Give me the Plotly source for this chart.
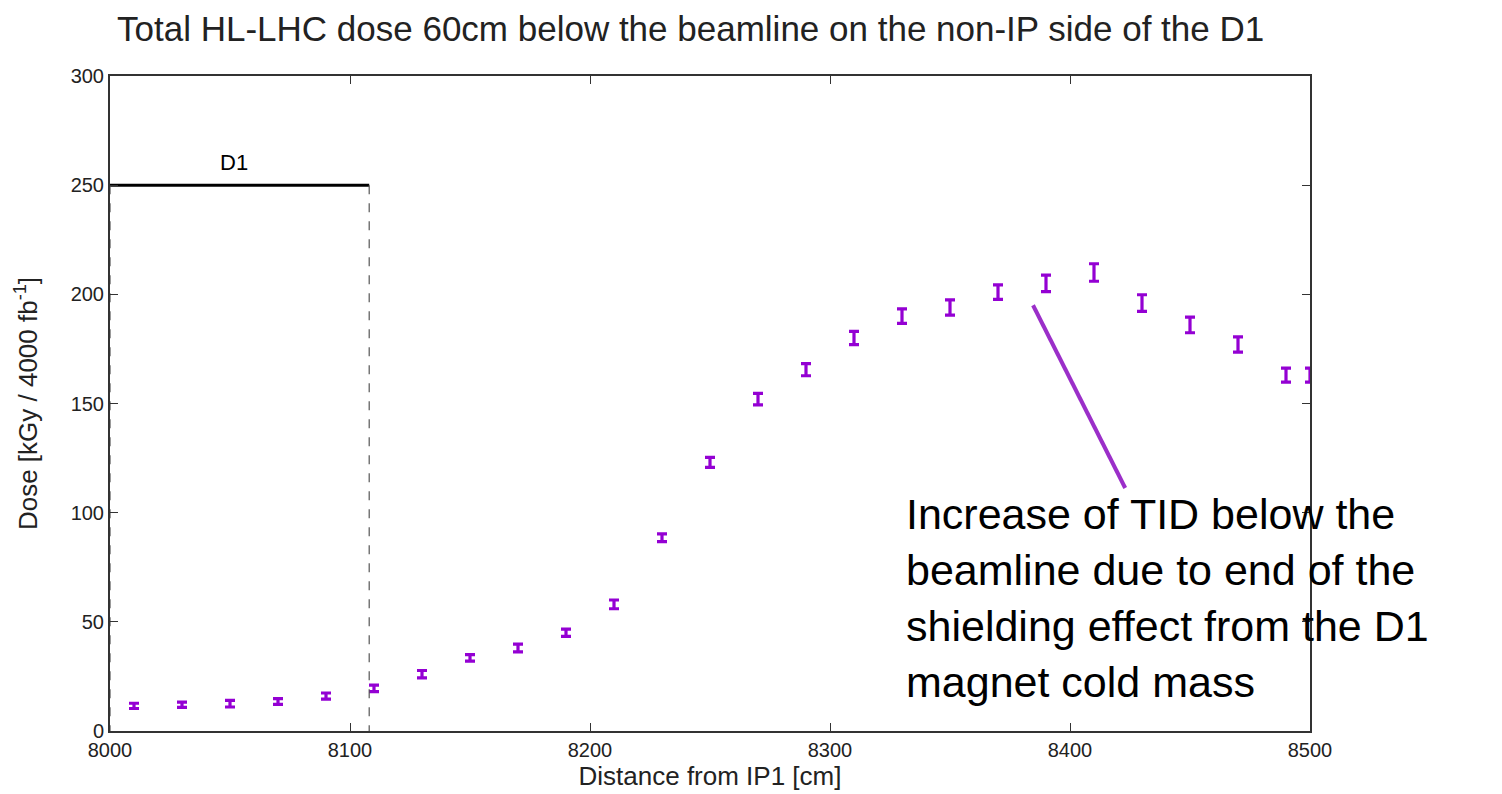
import plotly.graph_objects as go

distance_cm = [8010, 8030, 8050, 8070, 8090, 8110, 8130, 8150, 8170, 8190, 8210, 8230, 8250,
               8270, 8290, 8310, 8330, 8350, 8370, 8390, 8410, 8430, 8450, 8470, 8490, 8500]
dose_kgy = [11.5, 12, 12.5, 13.5, 16, 19.5, 26, 33.5, 38, 45, 58, 88.5, 123,
            152, 165.5, 180, 190, 194, 201, 205, 210, 196, 186, 177, 163, 163]
dose_err = [1.2, 1.2, 1.5, 1.3, 1.4, 1.5, 1.7, 1.5, 1.8, 1.7, 2, 1.8, 2.3,
            2.6, 2.8, 3, 3.3, 3.5, 3.3, 3.8, 4, 3.8, 3.6, 3.5, 3.2, 3.2]

d1_start, d1_end, d1_level = 8000, 8108, 250
x_ticks = [8000, 8100, 8200, 8300, 8400, 8500]
y_ticks = [0, 50, 100, 150, 200, 250, 300]
arrow_from = (8384.6, 195)
arrow_to = (8423, 111.3)

font = "Liberation Sans, Arial, sans-serif"
purple = "#9400D3"

fig = go.Figure()

fig.add_trace(go.Scatter(
    x=distance_cm, y=dose_kgy, mode="markers",
    marker=dict(size=1, color=purple),
    error_y=dict(type="data", array=dose_err, color=purple, thickness=3.2, width=5),
    cliponaxis=False, showlegend=False))

# D1 magnet indicator
fig.add_trace(go.Scatter(x=[d1_start, d1_end], y=[d1_level, d1_level], mode="lines",
                         line=dict(color="black", width=3), showlegend=False, cliponaxis=False))
fig.add_trace(go.Scatter(x=[d1_end, d1_end], y=[d1_level, 0], mode="lines",
                         line=dict(color="#555555", width=1.2, dash="dash"), showlegend=False))
fig.add_trace(go.Scatter(x=[d1_start, d1_start], y=[d1_level, 0], mode="lines",
                         line=dict(color="#555555", width=1.2, dash="dash"), showlegend=False,
                         cliponaxis=False))

# annotation arrow line
fig.add_trace(go.Scatter(x=[arrow_from[0], arrow_to[0]], y=[arrow_from[1], arrow_to[1]],
                         mode="lines", line=dict(color="#9B2FC9", width=4), showlegend=False))

fig.add_annotation(x=(d1_start + d1_end) / 2, y=d1_level, yshift=23, xshift=-6, text="D1",
                   showarrow=False, font=dict(family=font, size=22, color="black"))

fig.add_annotation(x=8331, y=111.5, xanchor="left", yanchor="top", align="left",
                   text="Increase of TID below the<br>beamline due to end of the<br>shielding effect from the D1<br>magnet cold mass",
                   showarrow=False, font=dict(family=font, size=43, color="black"))

fig.update_layout(
    width=1502, height=794,
    margin=dict(l=110, r=192, t=76, b=63),
    paper_bgcolor="white", plot_bgcolor="white",
    title=dict(text="Total HL-LHC dose 60cm below the beamline on the non-IP side of the D1",
               x=117 / 1502, xanchor="left", y=1 - 29 / 794, yanchor="middle",
               font=dict(family=font, size=35, color="#222222")),
    font=dict(family=font, size=20, color="#222222"),
)
fig.update_xaxes(range=[8000, 8500], tickvals=x_ticks, ticks="inside", ticklen=8,
                 tickcolor="#333333", showline=True, linecolor="#333333", linewidth=2,
                 mirror="ticks", showgrid=False, zeroline=False,
                 title=dict(text="Distance from IP1 [cm]", standoff=0, font=dict(size=26)))
fig.update_yaxes(range=[0, 300], tickvals=y_ticks, ticks="inside", ticklen=8,
                 tickcolor="#333333", showline=True, linecolor="#333333", linewidth=2,
                 mirror="ticks", showgrid=False, zeroline=False,
                 title=dict(text="Dose [kGy / 4000 fb<sup>-1</sup>]", standoff=26, font=dict(size=26)))

fig.write_html("out.html")
